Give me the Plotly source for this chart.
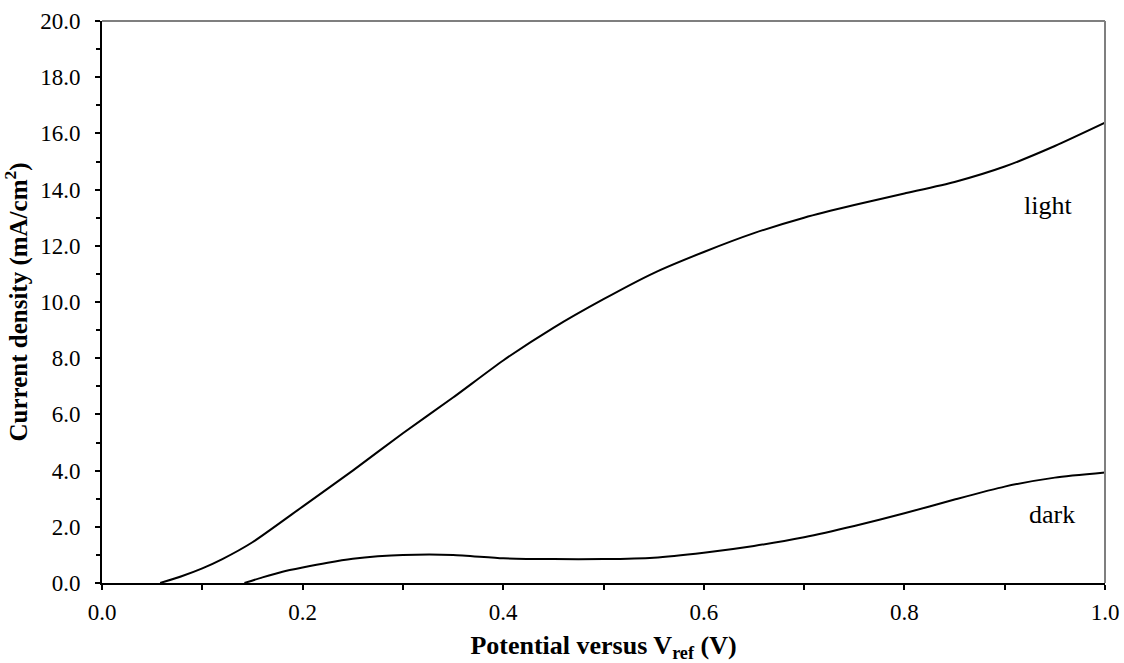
import plotly.graph_objects as go

light_x = [0.058, 0.08, 0.10, 0.12, 0.15, 0.20, 0.25, 0.30, 0.35, 0.40, 0.45, 0.50,
           0.55, 0.60, 0.65, 0.70, 0.75, 0.80, 0.85, 0.90, 0.95, 1.00]
light_y = [0.0, 0.25, 0.52, 0.85, 1.45, 2.72, 4.0, 5.33, 6.6, 7.92, 9.08, 10.1,
           11.03, 11.78, 12.45, 13.0, 13.45, 13.86, 14.27, 14.82, 15.55, 16.38]

dark_x = [0.142, 0.16, 0.18, 0.20, 0.225, 0.25, 0.275, 0.30, 0.35, 0.40, 0.45, 0.50,
          0.55, 0.60, 0.65, 0.70, 0.75, 0.80, 0.85, 0.90, 0.95, 1.00]
dark_y = [0.0, 0.2, 0.4, 0.55, 0.72, 0.86, 0.95, 1.0, 1.0, 0.88, 0.85, 0.85,
          0.9, 1.08, 1.32, 1.63, 2.03, 2.48, 2.97, 3.43, 3.75, 3.93]

labels = [("light", 0.943, 13.45), ("dark", 0.947, 2.45)]

FONT = "Liberation Serif"

fig = go.Figure()
fig.add_trace(go.Scatter(x=light_x, y=light_y, mode="lines",
                         line=dict(color="black", width=2, shape="spline", smoothing=0.6),
                         showlegend=False))
fig.add_trace(go.Scatter(x=dark_x, y=dark_y, mode="lines",
                         line=dict(color="black", width=2, shape="spline", smoothing=0.6),
                         showlegend=False))

for txt, lx, ly in labels:
    fig.add_annotation(x=lx, y=ly, text=txt, showarrow=False,
                       font=dict(family=FONT, size=26, color="black"))

# gray top and right frame lines
fig.add_shape(type="line", xref="paper", yref="paper", x0=0, x1=1, y0=1, y1=1,
              line=dict(color="#7f7f7f", width=2))
fig.add_shape(type="line", xref="paper", yref="paper", x0=1, x1=1, y0=0, y1=1,
              line=dict(color="#7f7f7f", width=2))

fig.update_layout(
    width=1124, height=663,
    margin=dict(l=102, r=19, t=21, b=80, autoexpand=False),
    paper_bgcolor="white", plot_bgcolor="white",
    font=dict(family=FONT, color="black"),
    xaxis=dict(
        range=[0, 1.0], tickvals=[0, 0.2, 0.4, 0.6, 0.8, 1.0],
        ticktext=["0.0", "0.2", "0.4", "0.6", "0.8", "1.0"],
        ticks="outside", ticklen=5, tickwidth=1.5, tickcolor="black",
        minor=dict(tickvals=[0.1, 0.3, 0.5, 0.7, 0.9], ticks="outside", ticklen=5,
                   tickwidth=1.5, tickcolor="black"),
        showline=True, linecolor="black", linewidth=2,
        showgrid=False, zeroline=False, automargin=False,
        tickfont=dict(family=FONT, size=23, color="black"),
        ticklabelstandoff=2,
        title=dict(text="<b>Potential versus V<sub>ref</sub> (V)</b>",
                   font=dict(family=FONT, size=26, color="black"), standoff=16),
    ),
    yaxis=dict(
        range=[0, 20], tickvals=list(range(0, 21, 2)),
        ticktext=[f"{v:.1f}" for v in range(0, 21, 2)],
        ticks="outside", ticklen=5, tickwidth=1.5, tickcolor="black",
        minor=dict(tickvals=list(range(1, 20, 2)), ticks="outside", ticklen=4,
                   tickwidth=1.5, tickcolor="black"),
        showline=True, linecolor="black", linewidth=2,
        showgrid=False, zeroline=False, automargin=False,
        tickfont=dict(family=FONT, size=23, color="black"),
        ticklabelstandoff=10,
        title=dict(text="<b>Current density (mA/cm<sup>2</sup>)</b>",
                   font=dict(family=FONT, size=25, color="black"), standoff=7),
    ),
)

fig.write_html("out.html")
